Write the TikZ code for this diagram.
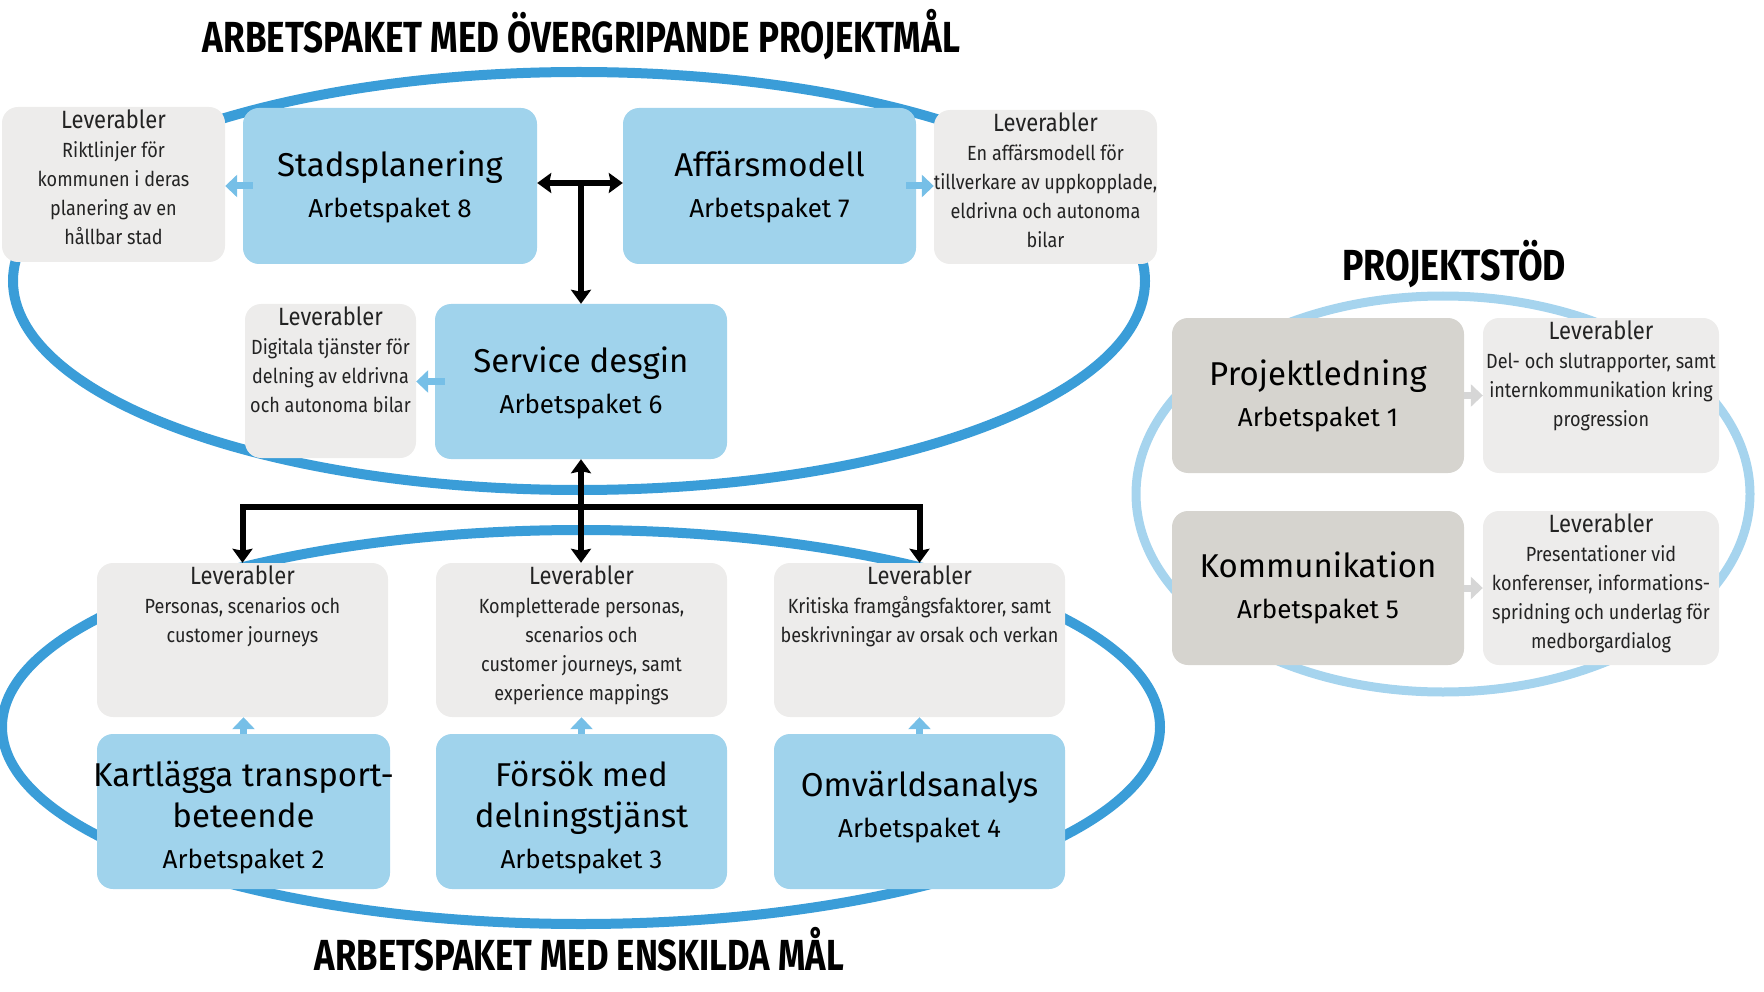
\documentclass[tikz,border=0pt]{standalone}
\usepackage{graphicx}
\usepackage{fontspec}
\setmainfont{Fira Sans}
\newfontfamily\bodyfont{Fira Sans}[FakeStretch=0.88]
\newfontfamily\headfont{Fira Sans}
\usetikzlibrary{arrows.meta,calc}
\definecolor{ellA}{RGB}{58,157,216}
\definecolor{ellB}{RGB}{166,212,238}
\definecolor{boxblue}{RGB}{160,211,236}
\definecolor{boxgray}{RGB}{237,236,235}
\definecolor{boxdark}{RGB}{214,212,207}
\definecolor{arrblue}{RGB}{118,191,231}
\definecolor{arrgray}{RGB}{214,214,214}
\definecolor{bodytext}{RGB}{35,35,35}
\newcommand\wpTitle[1]{{\fontsize{33}{41}\selectfont #1}}
\newcommand\levHead{{\fontsize{25}{29}\selectfont Leverabler}}
\newcommand\bigTitle[2]{\resizebox{#1}{\height}{\headfont\bfseries\fontsize{43.5}{50}\selectfont #2}}
\begin{document}
\begin{tikzpicture}[x=1pt,y=-1pt,
  bigell/.style={draw=ellA, line width=10pt},
  smallell/.style={draw=ellB, line width=9pt},
  bluebox/.style={fill=boxblue, rounded corners=16pt, inner sep=0pt},
  graybox/.style={fill=boxgray, rounded corners=16pt, inner sep=0pt},
  darkbox/.style={fill=boxdark, rounded corners=16pt, inner sep=0pt},
  wptext/.style={align=center, inner sep=0pt, font=\fontsize{26}{41}\selectfont},
  levtext/.style={align=center, inner sep=0pt, anchor=north, text=bodytext, font=\bodyfont\fontsize{20.5}{29}\selectfont},
  blkone/.style={draw=black, line width=6pt, -{Stealth[length=14pt,width=20pt,inset=2pt]}},
  blktwo/.style={draw=black, line width=6pt, {Stealth[length=14pt,width=20pt,inset=2pt]}-{Stealth[length=14pt,width=20pt,inset=2pt]}},
  larr/.style={draw=arrblue, line width=7pt, -{Triangle[length=12pt,width=22pt]}},
  garr/.style={draw=arrgray, line width=7pt, -{Triangle[length=12pt,width=22pt]}},
  titletext/.style={anchor=base, inner sep=0pt}
]
\useasboundingbox (0,0) rectangle (1764,992);

% ellipses
\draw[bigell] (579,281) ellipse [x radius=566, y radius=209];
\draw[bigell] (581,727) ellipse [x radius=579, y radius=197];
\draw[smallell] (1443,494) ellipse [x radius=307, y radius=198];

% titles
\node[titletext] (title1) at (581.5,53) {\bigTitle{757pt}{ARBETSPAKET MED ÖVERGRIPANDE PROJEKTMÅL}};
\node[titletext] (title2) at (1454,280) {\bigTitle{224pt}{PROJEKTSTÖD}};
\node[titletext] (title3) at (579.5,970) {\bigTitle{529pt}{ARBETSPAKET MED ENSKILDA MÅL}};

% boxes upper group
\node[graybox, minimum width=223pt, minimum height=155pt] (lev8) at (113.5,184.5) {};
\node[bluebox, minimum width=294pt, minimum height=156pt] (n8) at (390,186) {};
\node[bluebox, minimum width=293pt, minimum height=156pt] (n7) at (769.5,186) {};
\node[graybox, minimum width=223pt, minimum height=154pt] (lev7) at (1045.5,187) {};
\node[graybox, minimum width=171pt, minimum height=154pt] (lev6) at (330.5,381) {};
\node[bluebox, minimum width=292pt, minimum height=155pt] (n6) at (581,381.5) {};

% boxes lower group
\node[graybox, minimum width=291pt, minimum height=154pt] (lev2) at (242.5,640) {};
\node[graybox, minimum width=291pt, minimum height=154pt] (lev3) at (581.5,640) {};
\node[graybox, minimum width=291pt, minimum height=154pt] (lev4) at (919.5,640) {};
\node[bluebox, minimum width=293pt, minimum height=155pt] (n2) at (243.5,811.5) {};
\node[bluebox, minimum width=291pt, minimum height=155pt] (n3) at (581.5,811.5) {};
\node[bluebox, minimum width=291pt, minimum height=155pt] (n4) at (919.5,811.5) {};

% boxes project support
\node[darkbox, minimum width=292pt, minimum height=155pt] (n1) at (1318,395.5) {};
\node[graybox, minimum width=236pt, minimum height=155pt] (lev1) at (1601,395.5) {};
\node[darkbox, minimum width=292pt, minimum height=154pt] (n5) at (1318,588) {};
\node[graybox, minimum width=236pt, minimum height=154pt] (lev5) at (1601,588) {};

% light arrows
\draw[larr] ([xshift=10pt]n8.west) -- (n8.west -| lev8.east);
\draw[larr] ([xshift=-10pt]n7.east) -- (n7.east -| lev7.west);
\draw[larr] ([xshift=10pt]n6.west) -- (n6.west -| lev6.east);
\draw[larr] (n2.north) -- (n2.north |- lev2.south);
\draw[larr] (n3.north) -- (n3.north |- lev3.south);
\draw[larr] (n4.north) -- (n4.north |- lev4.south);
\draw[garr] (n1.east) -- (n1.east -| lev1.west);
\draw[garr] (n5.east) -- (n5.east -| lev5.west);

% black connectors
\draw[blktwo] ([yshift=3pt]n8.east) -- ([yshift=3pt]n7.west);
\coordinate (tmid) at ($([yshift=3pt]n8.east)!0.5!([yshift=3pt]n7.west)$);
\draw[blkone] (n6.north |- tmid) -- (n6.north);
\coordinate (bar) at (581,507);
\draw[blktwo] (n6.south) -- (n6.south |- lev3.north);
\draw[blkone] (n6.south |- bar) -| (lev2.north);
\draw[blkone] (n6.south |- bar) -| (lev4.north);

% texts in work-package boxes
\node[wptext, yshift=-1pt] (tx8) at (n8) {\wpTitle{Stadsplanering}\\Arbetspaket 8};
\node[wptext, yshift=-1pt] (tx7) at (n7) {\wpTitle{Affärsmodell}\\Arbetspaket 7};
\node[wptext, yshift=-1pt] (tx6) at (n6) {\wpTitle{Service desgin}\\Arbetspaket 6};
\node[wptext, yshift=-6pt] (tx2) at (n2) {\wpTitle{Kartlägga transport-}\\\wpTitle{beteende}\\Arbetspaket 2};
\node[wptext, yshift=-6pt] (tx3) at (n3) {\wpTitle{Försök med}\\\wpTitle{delningstjänst}\\Arbetspaket 3};
\node[wptext, yshift=4pt] (tx4) at (n4) {\wpTitle{Omvärldsanalys}\\Arbetspaket 4};
\node[wptext] (tx1) at (n1) {\wpTitle{Projektledning}\\Arbetspaket 1};
\node[wptext] (tx5) at (n5) {\wpTitle{Kommunikation}\\Arbetspaket 5};

% deliverable texts
\node[levtext] (lt8) at ([yshift=-3pt]lev8.north) {\levHead\\Riktlinjer för\\kommunen i deras\\planering av en\\hållbar stad};
\node[levtext] (lt7) at ([yshift=-3pt]lev7.north) {\levHead\\En affärsmodell för\\tillverkare av uppkopplade,\\eldrivna och autonoma\\bilar};
\node[levtext] (lt6) at ([yshift=-3pt]lev6.north) {\levHead\\Digitala tjänster för\\delning av eldrivna\\och autonoma bilar};
\node[levtext] (lt2) at ([yshift=-3pt]lev2.north) {\levHead\\Personas, scenarios och\\customer journeys};
\node[levtext] (lt3) at ([yshift=-3pt]lev3.north) {\levHead\\Kompletterade personas,\\scenarios och\\customer journeys, samt\\experience mappings};
\node[levtext] (lt4) at ([yshift=-3pt]lev4.north) {\levHead\\Kritiska framgångsfaktorer, samt\\beskrivningar av orsak och verkan};
\node[levtext] (lt1) at ([yshift=-3pt]lev1.north) {\levHead\\Del- och slutrapporter, samt\\internkommunikation kring\\progression};
\node[levtext] (lt5) at ([yshift=-3pt]lev5.north) {\levHead\\Presentationer vid\\konferenser, informations-\\spridning och underlag för\\medborgardialog};
\end{tikzpicture}
\end{document}
